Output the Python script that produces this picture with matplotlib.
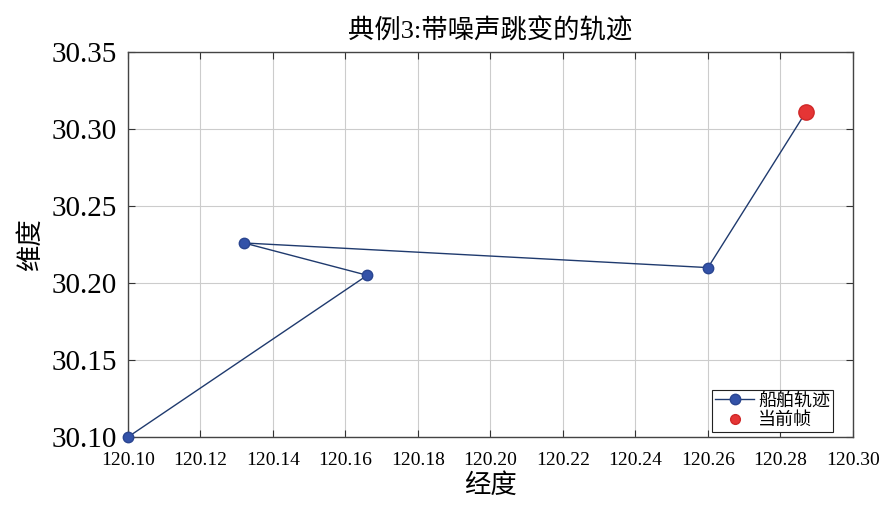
import matplotlib.pyplot as plt

plt.rcParams['font.family'] = ['Liberation Serif', 'Noto Sans CJK SC']
plt.rcParams['axes.unicode_minus'] = False

# 轨迹点（经度, 纬度）
lon = [120.100, 120.166, 120.132, 120.260, 120.287]
lat = [30.100, 30.205, 30.226, 30.210, 30.311]
cur_lon = [120.287]
cur_lat = [30.311]

xticks = [120.10, 120.12, 120.14, 120.16, 120.18, 120.20, 120.22, 120.24, 120.26, 120.28, 120.30]
yticks = [30.10, 30.15, 30.20, 30.25, 30.30, 30.35]

fig = plt.figure(figsize=(8.82, 5.05), dpi=100)
ax = fig.add_axes([128 / 882, 1 - 437 / 505, 725 / 882, 385 / 505])

ax.plot(lon, lat, '-o', color='#1f3a6e', lw=1.0, markersize=7.5, clip_on=False,
        markerfacecolor='#3352a8', markeredgecolor='#2a4590', label='船舶轨迹', zorder=3)
ax.plot(cur_lon, cur_lat, 'o', color='#e53535', markersize=11,
        markeredgecolor='#d02828', label='当前帧', zorder=4)

ax.set_xlim(120.10, 120.30)
ax.set_ylim(30.10, 30.35)
ax.set_xticks(xticks)
ax.set_xticklabels(['%.2f' % v for v in xticks], fontsize=14)
ax.set_yticks(yticks)
ax.set_yticklabels(['%.2f' % v for v in yticks], fontsize=21)
ax.tick_params(direction='in', top=True, right=True, length=5, color='#333333')
ax.tick_params(axis='x', pad=11)
ax.tick_params(axis='y', pad=8)
ax.grid(True, color='#cccccc', lw=0.8)
for s in ax.spines.values():
    s.set_color('#444444')
    s.set_linewidth(1.0)

ax.set_title('典例3:带噪声跳变的轨迹', fontsize=19, pad=10)
ax.set_xlabel('经度', fontsize=19, labelpad=3)
ax.set_ylabel('维度', fontsize=19, labelpad=6)

leg = ax.legend(loc='lower right', bbox_to_anchor=(0.972, 0.013), fontsize=13,
                fancybox=False, framealpha=1, edgecolor='#222222', borderpad=0.15,
                handletextpad=0.2, labelspacing=0.15, handlelength=2.2, borderaxespad=0)
leg.get_frame().set_linewidth(0.8)
leg.legend_handles[1].set_markersize(7)

fig.savefig('out.png', dpi=100)
